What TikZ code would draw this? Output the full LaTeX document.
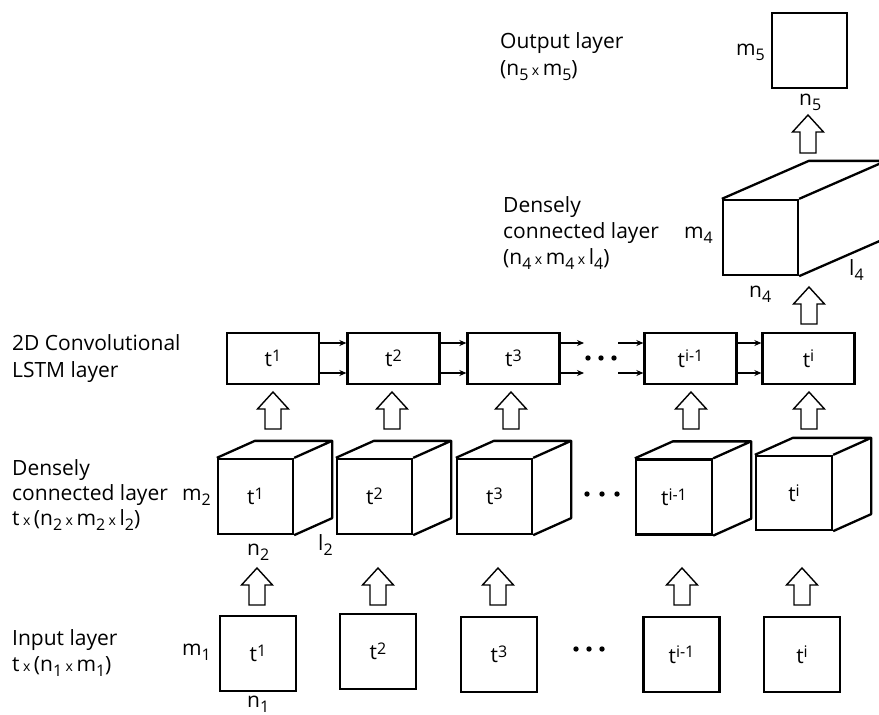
\documentclass[tikz,border=0pt]{standalone}
\usepackage{fontspec}
\setmainfont{Open Sans}
\usetikzlibrary{arrows.meta,calc}
\newcommand{\sbs}[1]{\raisebox{-5pt}{\fontsize{16}{16}\selectfont #1}}
\newcommand{\sps}[1]{\raisebox{5.5pt}{\fontsize{16}{16}\selectfont #1}}
\newcommand{\tms}{\,{\fontsize{14}{14}\selectfont x}\,}
\newcommand{\hup}[3]{%
  \draw[harrow] (#1-8,#2) -- (#1-8,#3+17) -- (#1-15.5,#3+17) -- (#1,#3) -- (#1+15.5,#3+17) -- (#1+8,#3+17) -- (#1+8,#2) -- cycle;}
\begin{document}
\begin{tikzpicture}[x=1pt,y=-1pt,
  every node/.style={font=\fontsize{21}{25}\selectfont, inner sep=0pt},
  lstmbox/.style={draw, line width=2.3pt, minimum width=92pt, minimum height=51pt},
  sqbox/.style={draw, line width=2.3pt, minimum width=76pt, minimum height=75pt},
  edge3d/.style={line width=2.3pt, line join=round},
  harrow/.style={draw, line width=1.4pt, fill=white, line join=miter},
  link/.style={line width=2pt, -{Stealth[length=7pt,width=6pt]}},
  lbl/.style={anchor=base west}]
\useasboundingbox (0,0) rectangle (879,715);
\clip (0,0) rectangle (879,715);

% ---------- left labels ----------
\node[lbl] (t1a) at (500,48) {Output layer};
\node[lbl] (t1b) at (500,75) {(n\sbs{5}\tms m\sbs{5})};
\node[lbl] (t2a) at (503,212) {Densely};
\node[lbl] (t2b) at (503,238) {connected layer};
\node[lbl] (t2c) at (503,264) {(n\sbs{4}\tms m\sbs{4}\tms l\sbs{4})};
\node[lbl] (t3a) at (12,350) {2D Convolutional};
\node[lbl] (t3b) at (12,377) {LSTM layer};
\node[lbl] (t4a) at (12,475) {Densely};
\node[lbl] (t4b) at (12,500) {connected layer};
\node[lbl] (t4c) at (12,525) {t\tms(n\sbs{2}\tms m\sbs{2}\tms l\sbs{2})};
\node[lbl] (t5a) at (12,645) {Input layer};
\node[lbl] (t5b) at (12,671) {t\tms(n\sbs{1}\tms m\sbs{1})};

% ---------- output layer ----------
\node[sqbox, minimum width=75pt] (O5) at (809.5,50.5) {};
\node[lbl] (m5) at (736,55) {m\sbs{5}};
\node[lbl] (n5) at (799,105) {n\sbs{5}};

% ---------- dense layer 4 ----------
\node[sqbox, minimum width=75pt] (D4) at (760.5,237.5) {};
\draw[edge3d] (D4.north west) -- ++(87,-38) -- ([shift={(87,-38)}]D4.north east) -- (D4.north east);
\draw[edge3d] ([shift={(87,-38)}]D4.north east) -- ([shift={(87,-38)}]D4.south east) -- (D4.south east);
\node[lbl] (m4) at (684,238) {m\sbs{4}};
\node[lbl] (n4) at (749,297) {n\sbs{4}};
\node[lbl] (l4) at (849,275) {l\sbs{4}};

% ---------- LSTM layer ----------
\node[lstmbox] (L1) at (273,358.5) {t\sps{1}};
\node[lstmbox] (L2) at (393.5,358.5) {t\sps{2}};
\node[lstmbox] (L3) at (513.5,358.5) {t\sps{3}};
\node[lstmbox] (L4) at (690.5,358.5) {t\sps{i-1}};
\node[lstmbox] (L5) at (808.5,358.5) {t\sps{i}};
\foreach \a/\b in {L1/L2,L2/L3,L4/L5}{
  \draw[link] ([yshift=15.5pt]\a.east) -- ([yshift=15.5pt]\b.west);
  \draw[link] ([yshift=-14.5pt]\a.east) -- ([yshift=-14.5pt]\b.west);
}
\coordinate (da) at (584,343);
\coordinate (db) at (584,373);
\coordinate (ea) at (618,343);
\coordinate (eb) at (618,373);
\draw[link] ([yshift=15.5pt]L3.east) -- (da);
\draw[link] ([yshift=-14.5pt]L3.east) -- (db);
\draw[link] (ea) -- ([yshift=15.5pt]L4.west);
\draw[link] (eb) -- ([yshift=-14.5pt]L4.west);
\foreach \x in {588,601,614} \fill (\x,358) circle (2.7pt);

% ---------- dense layer 2 (cubes) ----------
\node[sqbox, minimum width=75pt] (C1) at (255.5,496.5) {t\sps{1}};
\node[sqbox, minimum width=75pt] (C2) at (374.5,496.5) {t\sps{2}};
\node[sqbox, minimum width=75pt] (C3) at (494.5,496.5) {t\sps{3}};
\node[sqbox] (C4) at (674,497) {t\sps{i-1}};
\node[sqbox, minimum height=74pt] (C5) at (794,493) {t\sps{i}};
\foreach \c in {C1,C2,C3,C4,C5}{
  \draw[edge3d] (\c.north west) -- ++(38,-17) -- ([shift={(38,-17)}]\c.north east) -- (\c.north east);
  \draw[edge3d] ([shift={(38,-17)}]\c.north east) -- ([shift={(38,-17)}]\c.south east) -- (\c.south east);
}
\foreach \x in {587,602,617} \fill (\x,494) circle (2.7pt);
\node[lbl] (m2) at (182,500) {m\sbs{2}};
\node[lbl] (n2) at (247,555) {n\sbs{2}};
\node[lbl] (l2) at (318,550) {l\sbs{2}};

% ---------- input layer ----------
\node[sqbox] (I1) at (258,653.5) {t\sps{1}};
\node[sqbox] (I2) at (378,651.5) {t\sps{2}};
\node[sqbox] (I3) at (499,654.5) {t\sps{3}};
\node[sqbox] (I4) at (681.5,654.5) {t\sps{i-1}};
\node[sqbox] (I5) at (802,654.5) {t\sps{i}};
\foreach \x in {576,589,602} \fill (\x,649) circle (2.7pt);
\node[lbl] (m1) at (182,655) {m\sbs{1}};
\node[lbl] (n1) at (247,707) {n\sbs{1}};

% ---------- hollow arrows ----------
\hup{257}{605}{568}
\hup{378}{605}{568}
\hup{498}{605}{568}
\hup{682}{605}{568}
\hup{802}{605}{568}
\hup{273}{429}{392}
\hup{392}{429}{392}
\hup{511}{429}{392}
\hup{691}{429}{392}
\hup{809}{429}{392}
\hup{809}{324}{287}
\hup{808}{153}{115}
\end{tikzpicture}
\end{document}
